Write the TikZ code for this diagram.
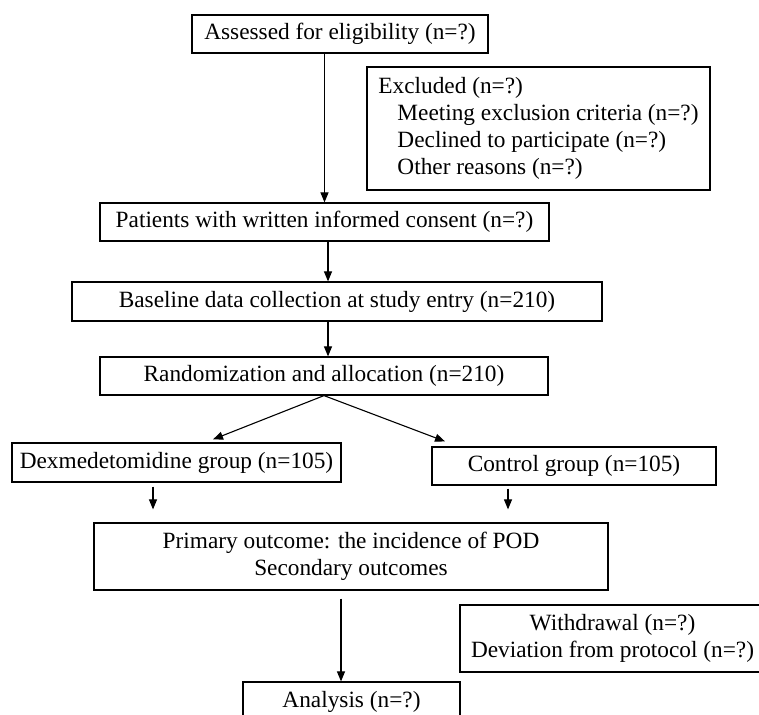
\documentclass[tikz,border=0pt]{standalone}
\usepackage{fontspec}
\setmainfont{Liberation Serif}
\usepackage{tikz}
\usetikzlibrary{calc, positioning, arrows.meta}

\begin{document}
\begin{tikzpicture}[
    x=1pt, y=-1pt,
    >={Triangle[length=10pt, width=8pt]},
    line width=1.2pt,
    font=\fontsize{23.3}{27}\selectfont,
    box/.style={draw, rectangle, inner xsep=4pt, inner ysep=2pt, fill=white, align=center},
    flow/.style={->, line width=1.1pt}
]

    \useasboundingbox (0,0) rectangle (759,714);

    % Screening
    \node[box, minimum width=296pt, minimum height=38pt] (assess) at (340, 34) {Assessed for eligibility (n=?)};
    \node[box, minimum width=343pt, minimum height=123pt, align=left] (excl) at (538.5, 128.5)
        {Excluded (n=?)\\\hspace*{19pt}Meeting exclusion criteria (n=?)\\\hspace*{19pt}Declined to participate (n=?)\\\hspace*{19pt}Other reasons (n=?)};

    % Enrolment
    \node[box, minimum width=449pt, minimum height=38pt] (consent) at (324.5, 222) {Patients with written informed consent (n=?)};
    \node[box, minimum width=530pt, minimum height=39pt] (baseline) at (337, 301.5) {Baseline data collection at study entry (n=210)};
    \node[box, minimum width=448pt, minimum height=38pt] (rand) at (324, 376) {Randomization and allocation (n=210)};

    \coordinate (consentout) at ($(consent.south)+(3.5,0)$);
    \coordinate (randin) at ($(rand.north)+(4,0)$);
    \draw[flow] (assess.south -| consent.north) -- (consent.north);
    \draw[flow] (consentout) -- (consentout |- baseline.north);
    \draw[flow] (randin |- baseline.south) -- (randin);

    % Groups
    \node[box, minimum width=329pt, minimum height=39pt] (dex) at (176.5, 462.5) {Dexmedetomidine group (n=105)};
    \node[box, minimum width=284pt, minimum height=38pt] (ctrl) at (574, 466) {Control group (n=105)};

    \draw[flow] (rand.south) -- ($(dex.north)+(36.5,-3)$);
    \draw[flow] (rand.south) -- ($(ctrl.north)+(-129,-5)$);

    % Outcomes
    \node[box, minimum width=514pt, minimum height=67pt] (primary) at (351, 556.5) {Primary outcome: the incidence of POD\\Secondary outcomes};

    \coordinate (dexout) at ($(dex.south)+(-23.5,4)$);
    \coordinate (ctrlout) at ($(ctrl.south)+(-66,3)$);
    \draw[flow, shorten >=13pt] (dexout) -- (dexout |- primary.north);
    \draw[flow, shorten >=13pt] (ctrlout) -- (ctrlout |- primary.north);

    % Analysis
    \node[box, minimum width=305pt, minimum height=67pt] (withdraw) at (612.5, 638.5) {Withdrawal (n=?)\\Deviation from protocol (n=?)};
    \node[box, minimum width=217pt, minimum height=40pt] (analysis) at (351.5, 702) {Analysis (n=?)};

    \coordinate (primout) at ($(primary.south)+(-10,8)$);
    \draw[flow] (primout) -- (primout |- analysis.north);

\end{tikzpicture}
\end{document}
